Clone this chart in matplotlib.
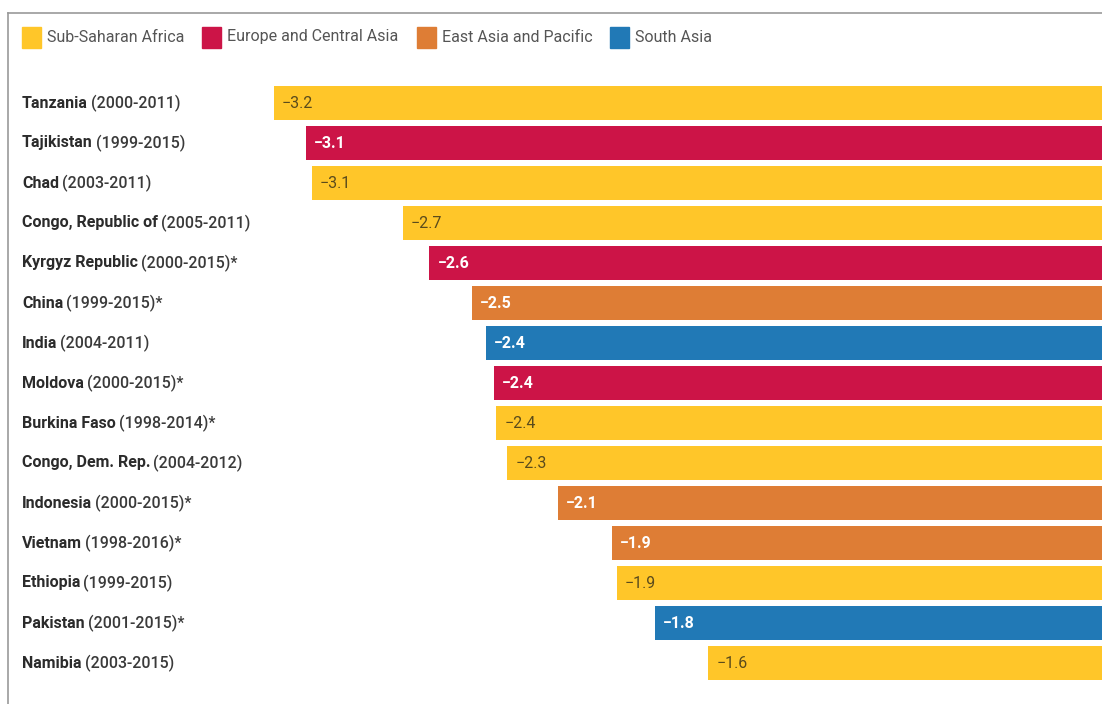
import matplotlib
matplotlib.use("Agg")
import matplotlib.pyplot as plt
from matplotlib.patches import Rectangle
from matplotlib.lines import Line2D

plt.rcParams["font.family"] = ["Roboto", "DejaVu Sans"]

countries = ["Tanzania", "Tajikistan", "Chad", "Congo, Republic of", "Kyrgyz Republic",
             "China", "India", "Moldova", "Burkina Faso", "Congo, Dem. Rep.",
             "Indonesia", "Vietnam", "Ethiopia", "Pakistan", "Namibia"]
periods = ["(2000-2011)", "(1999-2015)", "(2003-2011)", "(2005-2011)", "(2000-2015)*",
           "(1999-2015)*", "(2004-2011)", "(2000-2015)*", "(1998-2014)*", "(2004-2012)",
           "(2000-2015)*", "(1998-2016)*", "(1999-2015)", "(2001-2015)*", "(2003-2015)"]
values = [-3.20, -3.08, -3.06, -2.72, -2.62, -2.46, -2.41, -2.38, -2.37, -2.33,
          -2.14, -1.94, -1.92, -1.78, -1.58]
regions = ["SSA", "ECA", "SSA", "SSA", "ECA", "EAP", "SA", "ECA", "SSA", "SSA",
           "EAP", "EAP", "SSA", "SA", "SSA"]

region_names = {"SSA": "Sub-Saharan Africa", "ECA": "Europe and Central Asia",
                "EAP": "East Asia and Pacific", "SA": "South Asia"}
region_order = ["SSA", "ECA", "EAP", "SA"]
colors = {"SSA": "#FFC629", "ECA": "#CC1447", "EAP": "#DE7D35", "SA": "#2179B6"}

W, H = 1102, 704
fig = plt.figure(figsize=(W / 100, H / 100), dpi=100)
ax = fig.add_axes([0, 0, 1, 1])
ax.axis("off")

px_per_unit = 268.0
x_left = values[0] - 274 / px_per_unit
ax.set_xlim(x_left, x_left + W / px_per_unit)
row_px, first_px = 40.0, 103.0
ax.set_ylim((H - first_px) / row_px, -first_px / row_px)

rows = list(range(len(countries)))
ax.barh(rows, values, height=0.83, color=[colors[r] for r in regions], linewidth=0)

# value labels inside the bars
for i, (v, r) in enumerate(zip(values, regions)):
    txt = f"{v:.1f}".replace("-", "\u2212")
    dark = r != "SSA"
    ax.annotate(txt, (v, i), xytext=(8, 0), textcoords="offset pixels",
                ha="left", va="center", fontsize=11.5,
                color="white" if dark else "#5a4b1c",
                fontweight="bold" if dark else "normal")

# category labels: bold name + period
fig.canvas.draw()
renderer = fig.canvas.get_renderer()
for i, (c, p) in enumerate(zip(countries, periods)):
    yf = 1 - (first_px + row_px * i) / H
    t = fig.text(22 / W, yf, c, ha="left", va="center", fontsize=11.5,
                 fontweight="bold", color="#2b2b2b")
    bb = t.get_window_extent(renderer)
    fig.text(bb.x1 / W + 3 / W, yf, p, ha="left", va="center", fontsize=11.5,
             fontweight="medium", color="#3a3a3a")

# legend
x = 22
yl = 1 - 37 / H
for r in region_order:
    fig.patches.append(Rectangle((x / W, 1 - 48 / H), 19 / W, 21 / H,
                                 transform=fig.transFigure, color=colors[r]))
    t = fig.text((x + 25) / W, yl, region_names[r], ha="left", va="center",
                 fontsize=11.5, color="#555555")
    bb = t.get_window_extent(renderer)
    x = bb.x1 + 18

# frame lines
fig.add_artist(Line2D([8 / W, 1], [1 - 13 / H, 1 - 13 / H], transform=fig.transFigure,
                      color="#999999", lw=1.2))
fig.add_artist(Line2D([8 / W, 8 / W], [0, 1 - 13 / H], transform=fig.transFigure,
                      color="#999999", lw=1.2))

fig.savefig("out.png", dpi=100, facecolor="white")
